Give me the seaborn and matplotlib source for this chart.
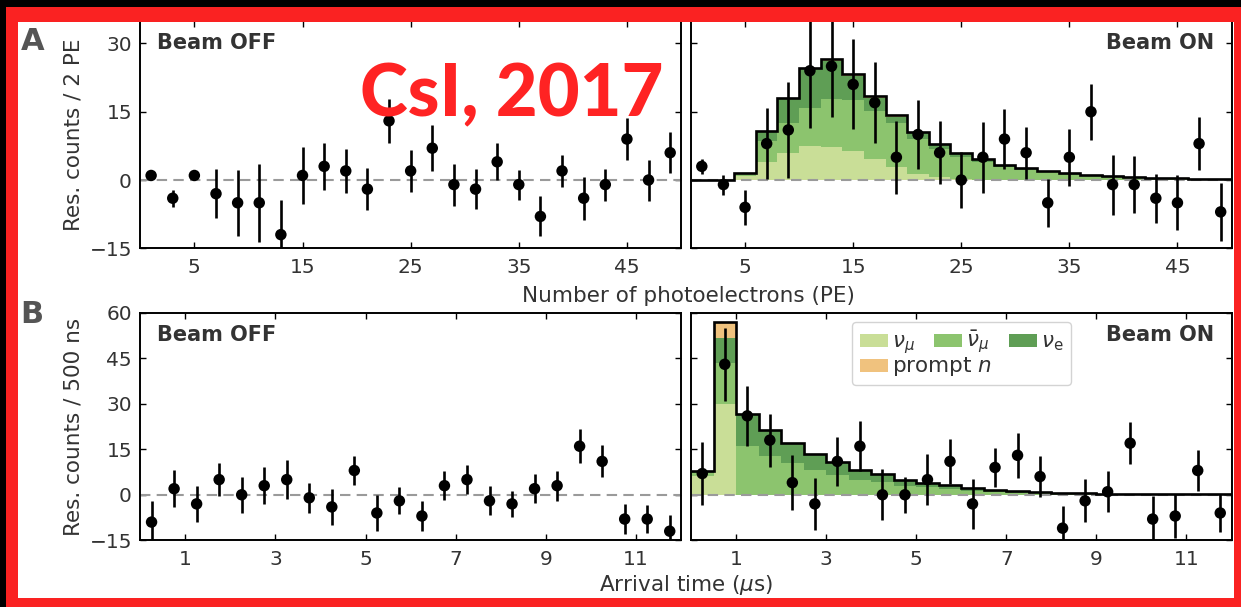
import numpy as np
import matplotlib
matplotlib.use("Agg")
import matplotlib.pyplot as plt
import seaborn as sns
from matplotlib.patches import Rectangle, Patch
from matplotlib import font_manager

# ---------------- energy spectra, 2-PE bins ----------------
pe_edges = np.arange(0, 51, 2)
pe_centers = np.arange(1, 50, 2)

pe_off = [1, -4, 1, -3, -5, -5, -12, 1, 3, 2, -2, 13, 2, 7, -1, -2, 4, -1, -8, 2, -4, -1, 9, 0, 6]
pe_off_err = [0.5, 1.9, 0.5, 5.4, 7.2, 8.6, 7.7, 6.2, 5.1, 4.8, 4.6, 4.8, 4.7,
              5.0, 4.6, 4.4, 4.1, 3.3, 4.4, 3.6, 4.7, 3.5, 4.6, 4.5, 4.5]
pe_on = [3, -1, -6, 8, 11, 24, 25, 21, 17, 5, 10, 6, 0, 5, 9, 6, -5, 5, 15, -1, -1, -4, -5, 8, -7]
pe_on_err = [1.6, 2.2, 3.9, 7.8, 10.6, 12.5, 11.1, 9.9, 8.9, 8.0, 7.5, 6.9, 6.2,
             7.8, 6.5, 5.7, 5.3, 6.3, 6.1, 6.6, 6.3, 5.4, 6.0, 5.9, 6.3]

# predicted CEvNS contributions per flavour
pe_numu = [0, 0, 0.8, 3.9, 6.0, 7.5, 7.3, 6.4, 4.6, 2.8, 1.3, 0.6, 0.3, 0.1,
           0, 0, 0, 0, 0, 0, 0, 0, 0, 0, 0]
pe_numubar = [0, 0, 0.5, 4.7, 6.6, 8.4, 10.6, 11.1, 10.6, 9.8, 7.7, 6.2, 4.7, 3.8,
              2.8, 2.2, 1.7, 1.2, 0.9, 0.65, 0.5, 0.37, 0.28, 0.2, 0.15]
pe_nue = [0, 0, 0.3, 2.2, 5.4, 8.4, 8.2, 5.3, 2.8, 1.3, 1.4, 1.0, 0.9, 0.7,
          0.5, 0.4, 0.3, 0.25, 0.2, 0.15, 0.1, 0.08, 0.07, 0.05, 0.05]
pe_prompt = [0, 0, 0, 0, 0.1, 0.3, 0.4, 0.4, 0.4, 0.3, 0.2, 0.1, 0.1, 0,
             0, 0, 0, 0, 0, 0, 0, 0, 0, 0, 0]

# ---------------- timing spectra, 500-ns bins ----------------
t_edges = np.arange(0, 12.01, 0.5)
t_centers = np.arange(0.25, 12, 0.5)

t_off = [-9, 2, -3, 5, 0, 3, 5, -1, -4, 8, -6, -2, -7, 3, 5, -2, -3, 2, 3, 16, 11, -8, -8, -12]
t_off_err = [7.0, 6.1, 6.0, 5.5, 6.0, 6.2, 6.3, 5.0, 5.9, 4.8, 5.9, 4.4,
             4.8, 4.7, 4.8, 4.8, 4.2, 4.8, 5.0, 5.6, 5.3, 5.0, 4.7, 5.3]
t_on = [7, 43, 26, 18, 4, -3, 11, 16, 0, 0, 5, 11, -3, 9, 13, 6, -11, -2, 1, 17, -8, -7, 8, -6]
t_on_err = [10.5, 12.0, 9.9, 8.7, 9.0, 8.5, 8.1, 8.3, 8.4, 6.0, 8.5, 7.4,
            8.2, 6.3, 7.5, 6.7, 7.3, 7.1, 6.7, 6.9, 7.7, 7.3, 6.9, 6.2]

t_numu = [6.3, 29.9, 0, 0, 0, 0, 0, 0, 0, 0, 0, 0,
          0, 0, 0, 0, 0, 0, 0, 0, 0, 0, 0, 0]
t_numubar = [0.8, 13.4, 16.2, 12.9, 10.4, 8.3, 6.6, 5.0, 4.1, 3.05, 2.4, 1.9,
             1.4, 1.0, 0.73, 0.55, 0.43, 0.3, 0.25, 0.18, 0.15, 0.12, 0.09, 0.07]
t_nue = [0.6, 8.5, 10.4, 8.3, 6.6, 5.3, 4.3, 3.2, 2.7, 1.95, 1.5, 1.2,
         0.9, 0.6, 0.47, 0.35, 0.27, 0.2, 0.15, 0.12, 0.1, 0.08, 0.06, 0.05]
t_prompt = [0, 5.3, 0, 0, 0, 0, 0, 0, 0, 0, 0, 0,
            0, 0, 0, 0, 0, 0, 0, 0, 0, 0, 0, 0]

pe_ticks = [5, 15, 25, 35, 45]
pe_yticks = [-15, 0, 15, 30]
t_ticks = [1, 3, 5, 7, 9, 11]
t_yticks = [-15, 0, 15, 30, 45, 60]

component_labels = [r"$\nu_\mu$", "prompt $n$", r"$\bar{\nu}_\mu$", r"$\nu_\mathrm{e}$"]
c_numu = "#c9de97"
c_numubar = "#8cc46e"
c_nue = "#5f9e55"
c_prompt = "#f0c27e"
TXT = "#333333"

sns.set_theme(style="ticks")
plt.rcParams.update({
    "font.family": ["DejaVu Sans"],
    "xtick.direction": "in", "ytick.direction": "in",
    "xtick.top": True, "ytick.right": True,
    "axes.linewidth": 1.4,
})

W, H = 1241, 607
fig = plt.figure(figsize=(W / 100, H / 100), dpi=100, facecolor="white")


def px_axes(x0, y0, x1, y1):
    return fig.add_axes([x0 / W, 1 - y1 / H, (x1 - x0) / W, (y1 - y0) / H])


def fx(x):
    return x / W


def fy(y):
    return 1 - y / H


ax_a_off = px_axes(140.3, 20.7, 681, 248.3)
ax_a_on = px_axes(691, 20.7, 1231.5, 248.3)
ax_b_off = px_axes(140.3, 312.7, 681, 540.3)
ax_b_on = px_axes(691, 312.7, 1231.5, 540.3)


def style_axes(ax, xlim, ylim, xticks, yticks, show_ylabels):
    ax.set_xlim(*xlim)
    ax.set_ylim(*ylim)
    ax.set_xticks(xticks)
    ax.set_yticks(yticks)
    ax.tick_params(axis="both", length=4.5, width=1.0, color="black",
                   labelsize=14.5, labelcolor=TXT)
    ax.tick_params(axis="x", pad=7)
    ax.tick_params(axis="y", pad=6)
    if not show_ylabels:
        ax.set_yticklabels([])
    for s in ax.spines.values():
        s.set_color("black")
        s.set_linewidth(1.4)
    ax.axhline(0, color="#9a9a9a", lw=1.5, ls=(0, (5, 3)), zorder=2)


def draw_points(ax, x, y, err):
    ax.errorbar(x, y, yerr=err, fmt="none", ecolor="black", elinewidth=1.9,
                capsize=0, zorder=3)
    sns.scatterplot(x=x, y=y, ax=ax, color="black", s=68, edgecolor="none",
                    zorder=4, legend=False)


def draw_stack(ax, edges, numu, numubar, nue, prompt):
    numu = np.asarray(numu, float)
    numubar = np.asarray(numubar, float)
    nue = np.asarray(nue, float)
    prompt = np.asarray(prompt, float)
    base = np.zeros_like(numu)
    for vals, col in [(numu, c_numu), (numubar, c_numubar), (nue, c_nue), (prompt, c_prompt)]:
        top = base + vals
        ax.stairs(top, edges, baseline=base.copy(), fill=True, color=col,
                  linewidth=0, zorder=1)
        base = top
    ax.stairs(base, edges, baseline=None, color="black", lw=1.9, zorder=2.5)


def beam_label(ax, text, right=False):
    if right:
        ax.annotate(text, xy=(1, 1), xycoords="axes fraction", xytext=(-12.6, -15.8),
                    textcoords="offset points", ha="right", va="center",
                    fontsize=15, fontweight="bold", color=TXT)
    else:
        ax.annotate(text, xy=(0, 1), xycoords="axes fraction", xytext=(12.2, -15.8),
                    textcoords="offset points", ha="left", va="center",
                    fontsize=15, fontweight="bold", color=TXT)


# ---- panel A: energy ----
for ax in (ax_a_off, ax_a_on):
    style_axes(ax, (0, 50), (-15, 35), pe_ticks, pe_yticks, ax is ax_a_off)
draw_stack(ax_a_on, pe_edges, pe_numu, pe_numubar, pe_nue, pe_prompt)
draw_points(ax_a_off, pe_centers, pe_off, pe_off_err)
draw_points(ax_a_on, pe_centers, pe_on, pe_on_err)
ax_a_off.set_ylabel("Res. counts / 2 PE", fontsize=15.5, color=TXT, labelpad=4)
beam_label(ax_a_off, "Beam OFF")
beam_label(ax_a_on, "Beam ON", right=True)

# ---- panel B: timing ----
for ax in (ax_b_off, ax_b_on):
    style_axes(ax, (0, 12), (-15, 60), t_ticks, t_yticks, ax is ax_b_off)
draw_stack(ax_b_on, t_edges, t_numu, t_numubar, t_nue, t_prompt)
draw_points(ax_b_off, t_centers, t_off, t_off_err)
draw_points(ax_b_on, t_centers, t_on, t_on_err)
ax_b_off.set_ylabel("Res. counts / 500 ns", fontsize=15.5, color=TXT, labelpad=4)
beam_label(ax_b_off, "Beam OFF")
beam_label(ax_b_on, "Beam ON", right=True)

fig.text(fx(688), fy(296), "Number of photoelectrons (PE)", ha="center", va="center",
         fontsize=15.5, color=TXT)
fig.text(fx(686), fy(585), r"Arrival time ($\mu$s)", ha="center", va="center",
         fontsize=15.5, color=TXT)

# legend: three flavours on the first row, prompt neutrons below
handles = [Patch(facecolor=c_numu, edgecolor="none"),
           Patch(facecolor=c_prompt, edgecolor="none"),
           Patch(facecolor=c_numubar, edgecolor="none"),
           Patch(facecolor=c_nue, edgecolor="none")]
labels = [component_labels[0], " ", component_labels[2], component_labels[3]]
leg = ax_b_on.legend(handles, labels, loc="upper left", bbox_to_anchor=(0.298, 0.96),
                     ncol=3, fontsize=15.5, handlelength=1.3, handleheight=0.55,
                     handletextpad=0.2, columnspacing=0.9, labelspacing=0.05,
                     borderpad=0.35, borderaxespad=0, frameon=True, framealpha=0.85,
                     edgecolor="#cccccc", fancybox=True)
for t in leg.get_texts():
    t.set_color(TXT)
fig.canvas.draw()
bb = leg.get_texts()[1].get_window_extent()
ax_b_on.text(*ax_b_on.transAxes.inverted().transform((bb.x0, bb.y0)),
             component_labels[1], transform=ax_b_on.transAxes, ha="left", va="bottom",
             fontsize=15.5, color=TXT, zorder=6)

# panel letters and headline
avail = {f.name for f in font_manager.fontManager.ttflist}
letter_font = "Liberation Sans Narrow" if "Liberation Sans Narrow" in avail else "DejaVu Sans"
title_font = "Lato" if "Lato" in avail else "DejaVu Sans"
fig.text(fx(20.5), fy(50), "A", family=letter_font, fontweight="bold", fontsize=22,
         color="#555555", ha="left", va="baseline")
fig.text(fx(20.5), fy(323), "B", family=letter_font, fontweight="bold", fontsize=22,
         color="#555555", ha="left", va="baseline")
fig.text(fx(360), fy(116), "CsI, 2017", family=title_font, fontweight="black",
         fontsize=52, color="#ff2323", ha="left", va="baseline", zorder=10)

# frame around the figure
red = "#fa2222"
for (x0, y0, x1, y1, c) in [
    (0, 0, W, 7, "black"), (0, 0, 6, H, "black"),
    (6, 7, W, 21.5, red), (6, 7, 18, H, red),
    (1234, 7, W, H, red), (6, 598, W, H, red),
]:
    fig.patches.append(Rectangle((fx(x0), fy(y1)), (x1 - x0) / W, (y1 - y0) / H,
                                 transform=fig.transFigure, facecolor=c,
                                 edgecolor="none", zorder=20))

fig.savefig("out.png", dpi=100)
